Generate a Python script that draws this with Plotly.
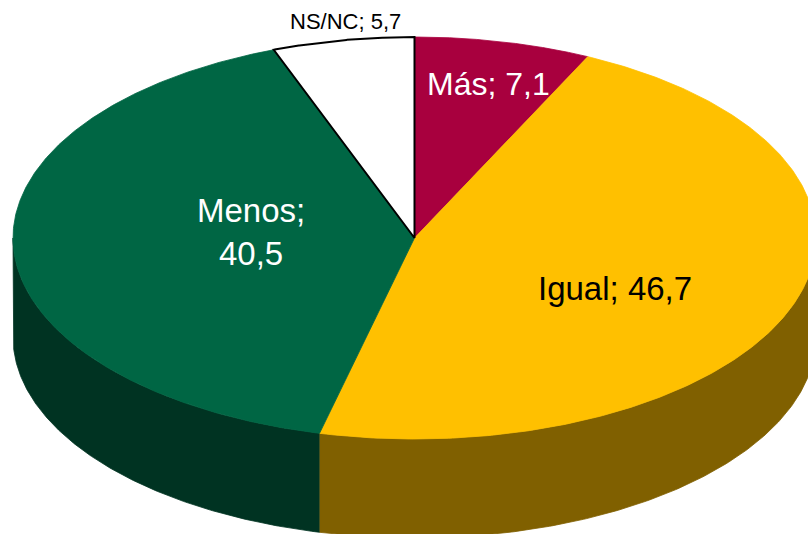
import numpy as np
import plotly.graph_objects as go

# ---- data ----
categories = ["Más", "Igual", "Menos", "NS/NC"]
values = [7.1, 46.7, 40.5, 5.7]

# ---- styles ----
top_colors = ["#A8003E", "#FFC000", "#006644", "#FFFFFF"]
side_colors = ["#54001F", "#806000", "#003322", "#808080"]
label_colors = ["white", "black", "white", "black"]
label_sizes = [32, 33, 33, 22]
label_seps = ["; ", "; ", ";<br>", "; "]
label_pos = [(488, 84), (615, 288), (251, 232), (345, 21)]
outline = [None, None, None, "black"]

W, H = 808, 534
CX, CY, A, B, DEPTH = 414.5, 238.0, 401.5, 201.0, 99.0


def ell(theta_deg, dy=0.0):
    t = np.radians(theta_deg)
    return CX + A * np.sin(t), CY - B * np.cos(t) + dy


total = sum(values)
bounds = np.concatenate([[0], np.cumsum(values)]) / total * 360.0

fig = go.Figure()

# sides (only the front half, 90..270 degrees, is visible)
for i, cat in enumerate(categories):
    t1, t2 = max(bounds[i], 90.0), min(bounds[i + 1], 270.0)
    if t2 <= t1:
        continue
    th = np.linspace(t1, t2, 200)
    xt, yt = ell(th)
    xb, yb = ell(th[::-1], DEPTH)
    fig.add_trace(go.Scatter(
        x=np.concatenate([xt, xb]), y=np.concatenate([yt, yb]),
        mode="lines", fill="toself", fillcolor=side_colors[i],
        line=dict(color=side_colors[i], width=0.8),
        hoverinfo="skip", showlegend=False))

# top faces
for i, cat in enumerate(categories):
    th = np.linspace(bounds[i], bounds[i + 1], 300)
    xa, ya = ell(th)
    xs = np.concatenate([[CX], xa, [CX]])
    ys = np.concatenate([[CY], ya, [CY]])
    lc = outline[i] if outline[i] else top_colors[i]
    lw = 2 if outline[i] else 0.8
    fig.add_trace(go.Scatter(
        x=xs, y=ys, mode="lines", fill="toself", fillcolor=top_colors[i],
        line=dict(color=lc, width=lw),
        hoverinfo="skip", showlegend=False))

for i, cat in enumerate(categories):
    txt = cat + label_seps[i] + f"{values[i]:.1f}".replace(".", ",")
    fig.add_annotation(
        x=label_pos[i][0], y=label_pos[i][1], xref="x", yref="y",
        text=txt, showarrow=False, xanchor="center", yanchor="middle",
        font=dict(family="Liberation Sans, Arial, sans-serif",
                  size=label_sizes[i], color=label_colors[i]))

fig.update_layout(
    width=W, height=H, margin=dict(l=0, r=0, t=0, b=0),
    paper_bgcolor="white", plot_bgcolor="white",
    xaxis=dict(range=[0, W], visible=False, fixedrange=True),
    yaxis=dict(range=[H, 0], visible=False, fixedrange=True),
    showlegend=False,
)

fig.write_html(
    "out.html",
    config={"displayModeBar": False, "staticPlot": True},
    post_script="document.body.style.margin='0';document.body.style.overflow='hidden';",
)
